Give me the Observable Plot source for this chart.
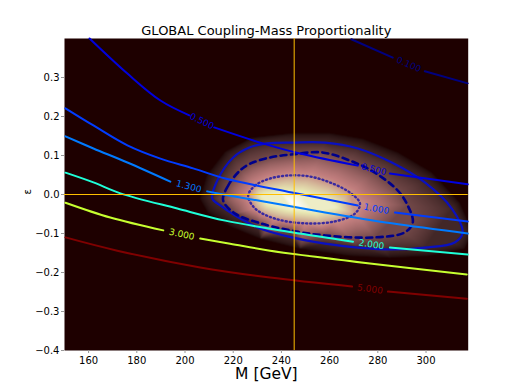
<!DOCTYPE html>
<html><head><meta charset="utf-8">
<script src="https://cdn.jsdelivr.net/npm/d3@7"></script>
<script src="https://cdn.jsdelivr.net/npm/@observablehq/plot@0.6"></script>
<style>body{margin:0;background:#fff;} svg{display:block;}</style>
</head><body><div id="chart"></div>
<script>
// ---- text ----
const title = "GLOBAL Coupling-Mass Proportionality";
const xLabel = "M [GeV]";
const yLabel = "ε";
const xTicks = [160, 180, 200, 220, 240, 260, 280, 300];
const yTicks = [-0.4, -0.3, -0.2, -0.1, 0.0, 0.1, 0.2, 0.3];
const xDomain = [150, 317.5];
const yDomain = [-0.4, 0.4];
const bestM = 245.3;
const bestEps = 0.0;

// ---- contour levels and lines (M, eps); G marks a label gap ----
const G = [NaN, NaN];
const levels = [0.1, 0.5, 1.0, 1.3, 2.0, 3.0, 5.0];
const levelLabels = ["0.100", "0.500", "1.000", "1.300", "2.000", "3.000", "5.000"];
const c010 = [[269.0,0.398],[286.2,0.351],G,[299.5,0.316],[317.3,0.285]];
const c050 = [[160.4,0.400],[176.1,0.310],[189.8,0.241],[201.8,0.203],G,[212.1,0.172],[231.2,0.133],[247.7,0.105],[271.7,0.074],G,[285.0,0.054],[317.3,0.026]];
const c100 = [[150.4,0.221],[162.0,0.177],[176.1,0.126],[189.8,0.092],[203.4,0.067],[216.7,0.041],[244.4,0.005],[271.7,-0.028],G,[287.1,-0.046],[317.3,-0.069]];
const c130 = [[150.4,0.149],[162.0,0.118],[176.1,0.082],[193.9,0.033],G,[209.2,0.008],[218.7,-0.003],[237.4,-0.023],[258.1,-0.046],[285.8,-0.074],[317.3,-0.100]];
const c200 = [[150.4,0.056],[162.0,0.031],[173.2,0.003],[196.8,-0.036],[216.7,-0.067],[244.4,-0.097],[269.7,-0.121],G,[285.0,-0.136],[317.3,-0.154]];
const c300 = [[150.4,-0.021],[169.0,-0.059],[191.0,-0.092],G,[206.3,-0.113],[218.7,-0.126],[235.3,-0.144],[276.7,-0.177],[316.9,-0.205]];
const c500 = [[150.4,-0.110],[171.9,-0.144],[206.3,-0.187],[235.3,-0.213],[269.3,-0.236],G,[284.2,-0.249],[316.9,-0.267]];
const contours = [c010, c050, c100, c130, c200, c300, c500];

// ---- likelihood region: confidence rings and glow samples ----
const ring1s = [[226.2,-0.003],[229.1,0.023],[235.3,0.041],[243.6,0.049],[251.9,0.046],[260.1,0.031],[268.4,0.005],[272.6,-0.023],[270.5,-0.049],[262.2,-0.069],[249.8,-0.074],[237.4,-0.062],[229.1,-0.036]];
const ring2s = [[215.8,-0.015],[217.9,0.023],[222.9,0.062],[227.0,0.079],[235.3,0.095],[244.8,0.103],[256.8,0.108],[268.4,0.087],[278.8,0.056],[288.3,0.010],[292.4,-0.028],[294.5,-0.072],[291.2,-0.097],[278.8,-0.110],[258.1,-0.105],[243.6,-0.092],[230.3,-0.072],[220.8,-0.049]];
const ring3s = [[211.3,-0.010],[213.4,0.036],[220.0,0.095],[227.0,0.121],[234.1,0.131],[244.8,0.133],[258.1,0.133],[271.7,0.118],[285.8,0.082],[299.5,0.031],[310.7,-0.036],[315.2,-0.097],[311.9,-0.123],[299.5,-0.136],[285.8,-0.141],[271.7,-0.136],[258.1,-0.126],[244.4,-0.110],[230.3,-0.085],[220.8,-0.054],[214.6,-0.028]];
const glowPeak = [[244.4,-0.021]];
const glowCore = [[232.0,-0.005],[239.4,0.005],[247.7,0.003],[258.1,-0.015],[262.2,-0.033],[253.9,-0.044],[243.6,-0.038],[234.5,-0.023]];
const glowHalo = [[206.0,-0.010],[209.0,0.050],[216.5,0.110],[227.5,0.146],[244.8,0.158],[260.1,0.158],[274.0,0.143],[288.5,0.108],[302.5,0.057],[314.0,-0.020],[319.5,-0.097],[316.0,-0.140],[301.0,-0.158],[285.0,-0.163],[268.4,-0.158],[247.7,-0.140],[231.2,-0.114],[218.5,-0.082],[209.5,-0.048]];
const glowFrame = [[150,-0.4],[150,0.4],[317.5,-0.4],[317.5,0.4],[150,0],[317.5,0.05],[233,0.4],[233,-0.4]];
const glowValues = {peak: 1.0, core: 0.8, s1: 0.42, s2: 0.12, s3: 0.035, halo: 0.0, frame: 0.0};

// ---- colormaps (matplotlib "pink" and "jet") ----
function pink(t) {
  t = Math.max(0, Math.min(1, t));
  const hr = t < 0.365079 ? 0.0416 + (1 - 0.0416) * t / 0.365079 : 1;
  const hg = t < 0.365079 ? 0 : t < 0.746032 ? (t - 0.365079) / (0.746032 - 0.365079) : 1;
  const hb = t < 0.746032 ? 0 : (t - 0.746032) / (1 - 0.746032);
  const f = h => Math.round(255 * Math.sqrt((2 * t + h) / 3));
  return `rgb(${f(hr)},${f(hg)},${f(hb)})`;
}
function seg(points, t) {
  for (let i = 1; i < points.length; i++) {
    const [x0, y0] = points[i - 1], [x1, y1] = points[i];
    if (t <= x1) return y0 + (y1 - y0) * (t - x0) / (x1 - x0);
  }
  return points[points.length - 1][1];
}
function jet(t) {
  const r = seg([[0,0],[0.35,0],[0.66,1],[0.89,1],[1,0.5]], t);
  const g = seg([[0,0],[0.125,0],[0.375,1],[0.64,1],[0.91,0],[1,0]], t);
  const b = seg([[0,0.5],[0.11,1],[0.34,1],[0.65,0],[1,0]], t);
  return d3.rgb(255 * r, 255 * g, 255 * b).formatHex();
}
const lmin = d3.min(levels), lmax = d3.max(levels);
const levelColors = levels.map(l => jet((l - lmin) / (lmax - lmin)));

// ---- layout ----
const W = 520, H = 390, mT = 38, mB = 40, mL = 64, mR = 52.3;
const kx = (W - mL - mR) / (xDomain[1] - xDomain[0]);
const ky = (H - mT - mB) / (yDomain[1] - yDomain[0]);

// glow samples table
const glow = [];
const addGlow = (pts, v) => pts.forEach(([M, e]) => glow.push({M, e, v}));
addGlow(glowPeak, glowValues.peak);
addGlow(glowCore, glowValues.core);
addGlow(ring1s, glowValues.s1);
addGlow(ring2s, glowValues.s2);
addGlow(ring3s, glowValues.s3);
addGlow(glowHalo, glowValues.halo);
addGlow(glowFrame, glowValues.frame);

// labels placed in each gap of the contour lines
const labelMarks = [];
const lineMarks = [];
contours.forEach((pts, i) => {
  const rows = pts.map(([M, e]) => ({M, e}));
  lineMarks.push(Plot.line(rows, {x: "M", y: "e", curve: "catmull-rom", stroke: levelColors[i], strokeWidth: 2}));
  const labs = [];
  pts.forEach((p, j) => {
    if (Number.isNaN(p[0])) {
      const a = pts[j - 1], b = pts[j + 1];
      labs.push({
        M: (a[0] + b[0]) / 2, e: (a[1] + b[1]) / 2,
        r: Math.atan2(-(b[1] - a[1]) * ky, (b[0] - a[0]) * kx) * 180 / Math.PI,
        t: levelLabels[i]
      });
    }
  });
  labelMarks.push(Plot.text(labs, {x: "M", y: "e", text: "t", rotate: "r", fill: levelColors[i], fontSize: 9, textAnchor: "middle", lineAnchor: "middle"}));
});

const fmtY = d3.format(".1f");
const chart = Plot.plot({
  width: W, height: H,
  marginTop: mT, marginBottom: mB, marginLeft: mL, marginRight: mR,
  style: {fontFamily: "DejaVu Sans", fontSize: "10px", background: "#fff", color: "#000"},
  x: {domain: xDomain},
  y: {domain: yDomain},
  color: {type: "linear", domain: [0, 1], interpolate: pink, clamp: true},
  marks: [
    Plot.raster(glow, {x: "M", y: "e", fill: "v", interpolate: "barycentric",
      x1: xDomain[0], x2: xDomain[1], y1: yDomain[0], y2: yDomain[1]}),
    Plot.line(ring3s, {x: d => d[0], y: d => d[1], curve: "catmull-rom-closed", stroke: "#0a10c0", strokeWidth: 2.2}),
    Plot.line(ring2s, {x: d => d[0], y: d => d[1], curve: "catmull-rom-closed", stroke: "#00008b", strokeWidth: 2.6, strokeDasharray: "6,4.5"}),
    Plot.line(ring1s, {x: d => d[0], y: d => d[1], curve: "catmull-rom-closed", stroke: "#3a2aa0", strokeWidth: 2.4, strokeDasharray: "1.1,3"}),
    ...lineMarks,
    ...labelMarks,
    Plot.ruleX([bestM], {stroke: "#ffbf00", strokeWidth: 1}),
    Plot.ruleY([bestEps], {stroke: "#ffbf00", strokeWidth: 1}),
    Plot.axisX({ticks: xTicks, tickFormat: d3.format("d"), tickSize: 3, tickPadding: 3, fontSize: 10, stroke: "#999", label: null}),
    Plot.axisY({ticks: yTicks, tickFormat: fmtY, tickSize: 3, tickPadding: 2, fontSize: 10, stroke: "#999", label: null}),
    Plot.text([title], {frameAnchor: "top", dy: -8, lineAnchor: "middle", fontSize: 13, fill: "#000"}),
    Plot.text([xLabel], {frameAnchor: "bottom", dy: 24, lineAnchor: "middle", fontSize: 15.5, fill: "#000"}),
    Plot.text([yLabel], {frameAnchor: "left", dx: -37, rotate: -90, lineAnchor: "middle", fontSize: 10, fill: "#000"})
  ]
});
document.getElementById("chart").appendChild(chart);
</script>
</body></html>
